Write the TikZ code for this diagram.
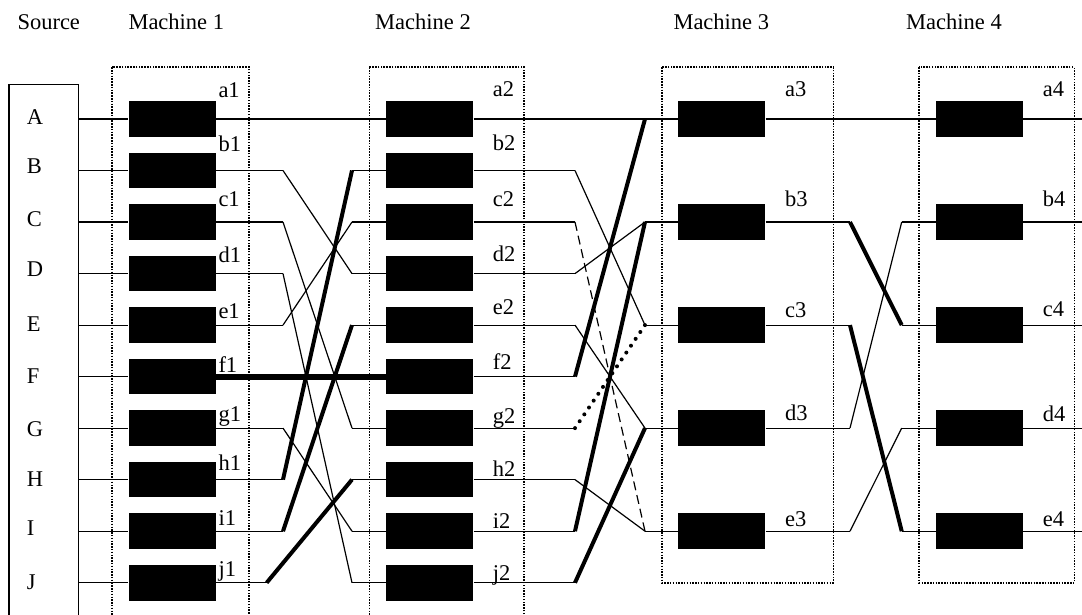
\documentclass[tikz,border=0pt]{standalone}
\usepackage{fontspec}
\setmainfont{Liberation Serif}
\newcommand{\mconn}[5]{%
  \draw[wire] (#2.east) -- (#2.east -| #4);
  \draw[#1] (#2.east -| #4) -- (#3.west -| #5);
  \draw[wire] (#3.west -| #5) -- (#3.west);}
\begin{document}
\begin{tikzpicture}[x=1pt,y=-1pt,
  wire/.style={line width=1.2pt},
  heavy/.style={line width=4pt},
  heavier/.style={line width=6pt},
  dashwire/.style={line width=1.2pt, dash pattern=on 9pt off 5pt},
  dotwire/.style={line width=4pt, line cap=round, dash pattern=on 0pt off 8.3pt},
  block/.style={fill=black, inner sep=0pt, minimum width=87.5pt, minimum height=35.7pt},
  mbox/.style={line width=1.6pt, dash pattern=on 1.5pt off 1.3pt},
  txt/.style={inner sep=0pt, anchor=base west, font=\fontsize{22.5}{27}\selectfont}]
\useasboundingbox (0,0) rectangle (1082,615);

% headers
\node[txt] (hs) at (17.3,29.3) {Source};
\node[txt] (h1) at (128.3,29.3) {Machine 1};
\node[txt] (h2) at (375,29.3) {Machine 2};
\node[txt] (h3) at (673.3,29.3) {Machine 3};
\node[txt] (h4) at (906,29.3) {Machine 4};

% machine frames
\draw[mbox] (111.7,67.3) rectangle (249,640);
\draw[mbox] (369.3,67.3) rectangle (524,640);
\draw[mbox] (661.7,67.3) rectangle (833.3,582.7);
\draw[mbox] (919,67.3) rectangle (1074.3,582.7);

% source box
\node[draw, wire, anchor=north west, minimum width=69.4pt, minimum height=560pt, inner sep=0pt] (src) at (8.3,84) {};
\foreach \L/\yb in {A/125,B/173.3,C/226.7,D/276,E/331,F/383,G/436,H/486,I/535,J/589}
  \node[txt] (r\L) at (26.7,\yb) {\L};

% blocks of machines 1 and 2
\foreach \n/\y in {a/119,b/170.5,c/222,d/273.6,e/325.1,f/376.6,g/428.1,h/479.6,i/531.2,j/582.7}{
  \node[block] (m1\n) at (172.35,\y) {};
  \node[block] (m2\n) at (429.65,\y) {};
}
% blocks of machines 3 and 4
\foreach \n/\y in {a/119,b/222,c/325.1,d/428.1,e/531.2}{
  \node[block] (m3\n) at (721.7,\y) {};
  \node[block] (m4\n) at (979.5,\y) {};
}

% labels
\foreach \n/\yb in {a/97.3,b/151.7,c/206.7,d/262.7,e/318,f/372.7,g/421.7,h/470.7,i/525,j/576.7}
  \node[txt] (l1\n) at (218.3,\yb) {\n1};
\foreach \n/\yb in {a/96.7,b/150,c/206.7,d/261.7,e/314,f/369.3,g/423.3,h/476.7,i/528.3,j/580}
  \node[txt] (l2\n) at (492.7,\yb) {\n2};
\foreach \n/\yb in {a/96.7,b/206.7,c/317.3,d/420.7,e/526}
  \node[txt] (l3\n) at (785,\yb) {\n3};
\foreach \n/\yb in {a/96.7,b/206.7,c/316.7,d/421.7,e/526}
  \node[txt] (l4\n) at (1042.7,\yb) {\n4};

% bend columns
\coordinate (o1) at (283,0);
\coordinate (o1j) at (266.7,0);
\coordinate (i2) at (352,0);
\coordinate (o2) at (575,0);
\coordinate (i3) at (645,0);
\coordinate (o3) at (850,0);
\coordinate (i4) at (901.7,0);
\coordinate (rend) at (1082,0);
\coordinate (ta) at (231.7,0);
\coordinate (tb) at (335,0);

% source to machine 1
\foreach \n in {a,b,c,d,e,f,g,h,i,j}
  \draw[wire] (m1\n.west -| src.east) -- (m1\n.west);

% machine 1 to machine 2
\draw[wire] (m1a.east) -- (m2a.west);
\draw[line width=1.8pt] (m1a.east -| ta) -- (m1a.east -| tb);
\mconn{wire}{m1b}{m2d}{o1}{i2}
\mconn{wire}{m1c}{m2g}{o1}{i2}
\mconn{wire}{m1d}{m2j}{o1}{i2}
\mconn{wire}{m1e}{m2c}{o1}{i2}
\draw[heavier] (m1f.east) -- (m2f.west);
\mconn{wire}{m1g}{m2i}{o1}{i2}
\mconn{heavy}{m1h}{m2b}{o1}{i2}
\mconn{heavy}{m1i}{m2e}{o1}{i2}
\mconn{heavy}{m1j}{m2h}{o1j}{i2}

% machine 2 to machine 3
\draw[wire] (m2a.east) -- (m3a.west);
\mconn{wire}{m2b}{m3c}{o2}{i3}
\mconn{dashwire}{m2c}{m3e}{o2}{i3}
\mconn{wire}{m2d}{m3b}{o2}{i3}
\mconn{wire}{m2e}{m3d}{o2}{i3}
\mconn{heavy}{m2f}{m3a}{o2}{i3}
\mconn{dotwire}{m2g}{m3c}{o2}{i3}
\mconn{wire}{m2h}{m3e}{o2}{i3}
\mconn{heavy}{m2i}{m3b}{o2}{i3}
\mconn{heavy}{m2j}{m3d}{o2}{i3}

% machine 3 to machine 4
\draw[wire] (m3a.east) -- (m4a.west);
\mconn{heavy}{m3b}{m4c}{o3}{i4}
\mconn{heavy}{m3c}{m4e}{o3}{i4}
\mconn{wire}{m3d}{m4b}{o3}{i4}
\mconn{wire}{m3e}{m4d}{o3}{i4}

% machine 4 outputs
\foreach \n in {a,b,c,d,e}
  \draw[wire] (m4\n.east) -- (m4\n.east -| rend);
\end{tikzpicture}
\end{document}
